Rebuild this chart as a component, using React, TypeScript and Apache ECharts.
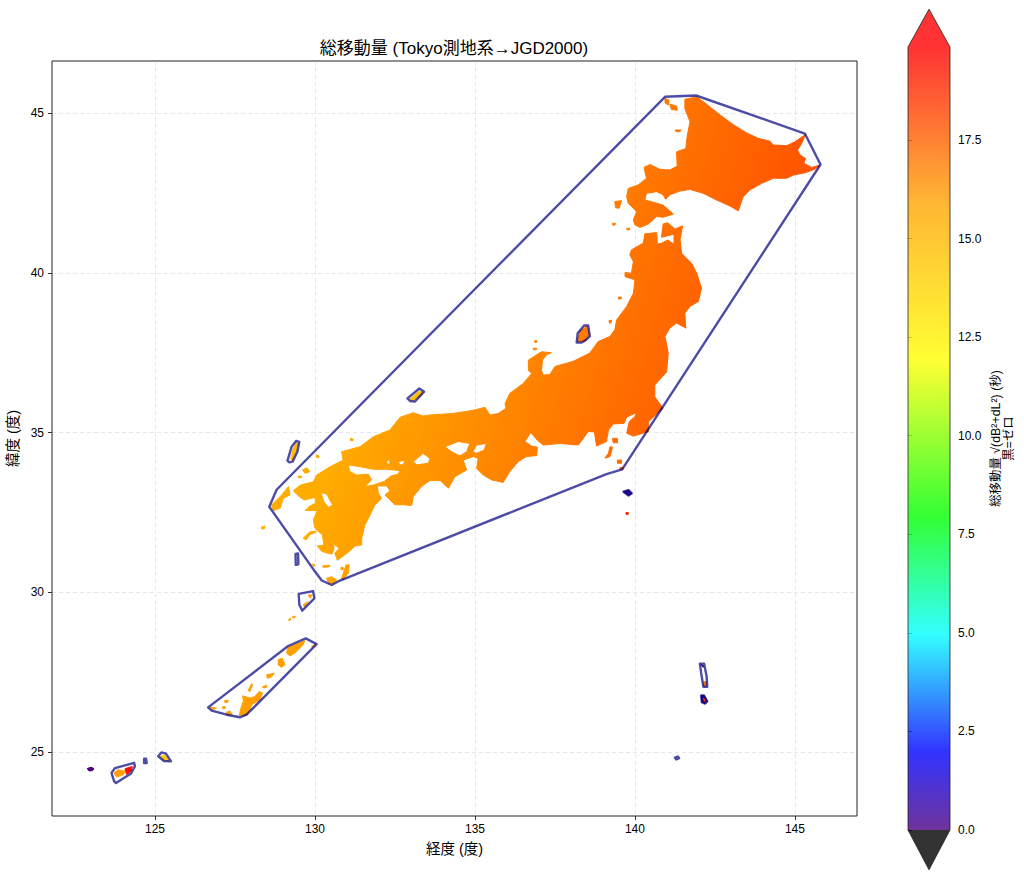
import React, { useEffect, useRef } from "react";
import * as echarts from "echarts";

type P = number[];

const chartTitle = "総移動量 (Tokyo測地系→JGD2000)";
const xName = "経度 (度)";
const yName = "緯度 (度)";
const barName = "総移動量 √(dB²+dL²) (秒)\n黒=ゼロ";
const lonTicks = [125, 130, 135, 140, 145];
const latTicks = [25, 30, 35, 40, 45];
const barTicks = [0, 2.5, 5, 7.5, 10, 12.5, 15, 17.5];
const barMax = 19.86;
const cmapStops = [0, 0.1, 0.25, 0.4, 0.6, 0.8, 1];
const cmapRgb = [[75, 0, 130], [0, 0, 255], [0, 255, 255], [0, 255, 0], [255, 255, 0], [255, 165, 0], [255, 0, 0]];

const hokkaido: P[] = [[141.56,45.43],[141.93,45.51],[142.24,45.28],[142.66,44.94],[143.07,44.64],[143.49,44.38],[143.85,44.21],[144.22,44.12],[144.32,44.0],[144.74,43.98],[145.0,44.1],[145.33,44.33],[145.21,44.05],[145.08,43.84],[145.16,43.69],[145.33,43.58],[145.28,43.43],[145.52,43.3],[145.78,43.37],[145.62,43.24],[145.31,43.13],[144.95,43.06],[144.74,42.96],[144.32,42.96],[143.96,42.8],[143.59,42.59],[143.38,42.38],[143.23,41.94],[142.97,42.09],[142.55,42.28],[142.13,42.49],[141.72,42.61],[141.41,42.56],[141.09,42.44],[140.96,42.3],[140.88,42.44],[140.68,42.54],[140.36,42.49],[140.31,42.28],[140.68,42.18],[140.88,42.12],[141.2,41.84],[140.88,41.74],[140.68,41.76],[140.42,41.53],[140.16,41.42],[140.0,41.5],[139.95,41.65],[140.05,41.92],[139.79,42.18],[139.74,42.38],[139.79,42.64],[140.1,42.75],[140.36,42.96],[140.28,43.3],[140.47,43.39],[140.78,43.24],[141.09,43.22],[141.32,43.34],[141.3,43.79],[141.59,43.89],[141.63,44.26],[141.72,44.73],[141.56,45.14]];

const mainland: P[] = [[140.31,41.22],[140.68,41.26],[140.7,40.9],[140.84,40.93],[141.02,41.03],[141.22,40.9],[141.22,41.21],[140.83,41.11],[140.88,41.53],[141.02,41.57],[141.25,41.37],[141.49,41.47],[141.41,41.03],[141.46,40.61],[141.77,40.3],[141.93,39.99],[142.08,39.52],[141.98,39.1],[141.72,38.95],[141.56,38.74],[141.59,38.27],[141.3,38.43],[141.09,38.27],[140.94,38.01],[141.04,37.49],[140.99,36.9],[140.62,36.49],[140.62,36.12],[140.88,35.76],[140.42,35.34],[140.42,35.03],[139.95,34.89],[139.74,34.98],[139.82,35.34],[140.0,35.5],[140.03,35.62],[139.74,35.48],[139.66,35.29],[139.32,35.27],[139.17,35.08],[139.11,34.72],[138.8,34.58],[138.73,35.03],[138.54,35.03],[138.23,34.61],[137.66,34.66],[137.13,34.61],[136.96,34.75],[136.74,35.0],[136.56,34.72],[136.77,34.58],[136.95,34.54],[136.93,34.28],[136.61,34.25],[136.35,34.09],[136.09,33.78],[135.88,33.44],[135.52,33.52],[135.26,33.67],[135.05,33.88],[135.1,34.19],[134.95,34.25],[134.63,34.14],[134.74,33.83],[134.37,33.62],[134.17,33.26],[133.91,33.5],[133.59,33.5],[133.33,33.31],[133.07,33.0],[133.02,32.72],[132.76,32.74],[132.5,32.74],[132.34,32.89],[132.19,33.05],[132.34,33.18],[132.24,33.33],[131.95,33.33],[131.98,33.1],[132.08,32.94],[131.87,32.73],[131.72,32.42],[131.56,32.11],[131.46,31.69],[131.46,31.48],[131.25,31.45],[131.07,31.28],[130.7,31.0],[130.62,31.22],[130.75,31.38],[130.59,31.51],[130.59,31.33],[130.52,31.19],[130.21,31.28],[130.07,31.45],[130.28,31.48],[130.23,31.8],[130.0,32.0],[129.95,32.27],[130.07,32.56],[129.69,32.56],[129.84,32.7],[130.02,32.79],[130.0,32.97],[129.66,32.89],[129.48,33.02],[129.32,33.18],[129.55,33.36],[129.95,33.46],[130.05,33.67],[130.47,33.93],[130.88,34.14],[130.83,34.4],[131.41,34.56],[131.82,34.87],[132.34,35.08],[132.66,35.48],[133.07,35.62],[133.38,35.52],[133.59,35.55],[134.32,35.6],[134.95,35.7],[135.31,35.79],[135.47,35.55],[135.73,35.6],[135.97,35.76],[135.94,35.91],[136.09,36.23],[136.51,36.54],[136.77,36.85],[136.67,36.95],[136.67,37.27],[137.08,37.53],[137.39,37.5],[137.24,37.44],[137.11,37.27],[137.08,36.95],[137.13,36.8],[137.34,36.82],[137.5,37.07],[138.07,37.23],[138.59,37.49],[138.85,37.85],[139.22,38.01],[139.37,38.22],[139.43,38.53],[139.74,38.95],[139.95,39.36],[140.0,39.78],[139.69,39.88],[139.69,40.01],[139.89,39.99],[139.95,40.35],[139.84,40.56],[139.89,40.72],[140.26,40.93]];

const suoIyoSea: P[] = [[131.04,33.99],[131.41,33.93],[131.82,33.85],[132.24,33.85],[132.66,33.81],[132.6,33.7],[132.39,33.65],[132.16,33.47],[131.82,33.36],[131.56,33.31],[131.77,33.52],[131.67,33.7],[131.3,33.67],[131.09,33.78]];
const hiuchiSea: P[] = [[133.07,34.09],[133.38,34.35],[133.59,34.19],[133.54,34.04],[133.18,33.99]];
const setoGapA: P[] = [[132.6,34.09],[132.81,34.14],[132.76,33.99],[132.66,33.99]];
const setoGapB: P[] = [[132.24,34.12],[132.34,34.14],[132.34,34.02],[132.26,34.02]];
const harimaSea: P[] = [[134.06,34.56],[134.48,34.72],[134.84,34.66],[134.74,34.4],[134.53,34.27],[134.27,34.4]];
const osakaBay: P[] = [[135.05,34.61],[135.36,34.66],[135.28,34.45],[135.05,34.35],[134.93,34.4]];
const ariakeSea: P[] = [[130.19,33.12],[130.36,33.08],[130.55,32.73],[130.42,32.66],[130.28,32.84]];

const gradientIslands: P[][] = [
  [[140.94,45.46],[141.07,45.4],[141.04,45.25],[140.94,45.32]],
  [[141.09,45.28],[141.3,45.22],[141.32,45.09],[141.14,45.11]],
  [[141.25,44.47],[141.44,44.47],[141.41,44.42],[141.28,44.42]],
  [[139.37,42.23],[139.58,42.26],[139.51,42.02],[139.39,42.04]],
  [[139.3,41.55],[139.39,41.55],[139.37,41.49],[139.3,41.5]],
  [[139.74,41.39],[139.84,41.39],[139.82,41.34],[139.75,41.35]],
  [[139.48,39.24],[139.58,39.24],[139.56,39.18],[139.49,39.18]],
  [[139.19,38.51],[139.27,38.51],[139.25,38.43],[139.2,38.43]],
  [[138.2,37.85],[138.28,38.17],[138.51,38.34],[138.57,38.06],[138.44,37.85]],
  [[136.82,37.64],[136.93,37.64],[136.91,37.59],[136.82,37.6]],
  [[136.87,37.88],[136.93,37.88],[136.93,37.82],[136.87,37.82]],
  [[139.3,34.82],[139.45,34.82],[139.45,34.68],[139.32,34.68]],
  [[139.22,34.56],[139.3,34.54],[139.22,34.25],[139.06,34.2],[139.17,34.35]],
  [[139.45,34.14],[139.58,34.14],[139.58,34.04],[139.45,34.04]],
  [[139.53,33.91],[139.63,33.91],[139.63,33.85],[139.53,33.85]],
  [[129.61,33.83],[129.74,33.9],[129.84,33.78],[129.69,33.72]],
  [[130.05,34.3],[130.13,34.27],[130.11,34.21],[130.05,34.22]],
  [[131.11,34.82],[131.2,34.79],[131.18,34.74],[131.11,34.75]],
  [[129.48,33.64],[129.58,33.64],[129.56,33.58],[129.48,33.59]],
  [[128.64,32.73],[128.96,33.05],[129.17,33.31],[129.22,33.05],[129.01,32.94],[128.91,32.63],[128.7,32.56]],
  [[129.63,31.69],[129.84,31.9],[130.05,31.9],[129.84,31.8],[129.72,31.64]],
  [[128.32,32.04],[128.43,32.08],[128.43,32.0],[128.34,31.98]],
  [[130.97,30.86],[131.07,30.86],[131.04,30.6],[130.88,30.39],[130.83,30.44]],
  [[130.36,30.44],[130.52,30.49],[130.68,30.39],[130.57,30.27],[130.42,30.29]],
  [[130.24,30.83],[130.47,30.85],[130.45,30.8],[130.26,30.78]],
  [[129.9,30.89],[130.0,30.86],[129.97,30.81]],
  [[130.81,30.78],[130.88,30.78],[130.88,30.71],[130.81,30.71]],
];

const valuedIslands: P[][] = [
  [[132.97,36.05],[133.23,36.28],[133.36,36.28],[133.33,36.17],[133.07,36.0]],
  [[129.24,34.16],[129.32,34.5],[129.43,34.68],[129.48,34.64],[129.37,34.3],[129.3,34.12]],
  [[129.79,29.92],[129.89,29.92],[129.86,29.81]],
  [[129.63,29.61],[129.79,29.71],[129.68,29.55]],
  [[129.18,29.16],[129.24,29.19],[129.24,29.14],[129.18,29.12]],
  [[129.3,29.24],[129.38,29.26],[129.38,29.21],[129.3,29.2]],
  [[129.11,28.1],[129.16,28.28],[129.68,28.49],[129.63,28.36],[129.37,28.1],[129.22,28.01]],
  [[129.89,28.3],[130.03,28.39],[129.94,28.28]],
  [[128.85,27.89],[128.98,27.94],[129.06,27.73],[128.95,27.65],[128.85,27.73]],
  [[128.49,27.42],[128.73,27.47],[128.64,27.35],[128.51,27.31]],
  [[128.36,27.05],[128.49,27.09],[128.47,27.01],[128.38,27.01]],
  [[127.91,26.93],[128.02,27.14],[128.05,27.11],[127.97,26.9]],
  [[128.26,26.9],[128.36,26.85],[128.28,26.64],[128.02,26.48],[127.97,26.33],[127.86,26.15],[127.63,26.15],[127.7,26.43],[127.76,26.59],[127.74,26.76],[127.97,26.69],[128.12,26.74]],
  [[127.22,26.24],[127.34,26.29],[127.41,26.17],[127.24,26.16]],
  [[127.18,26.62],[127.29,26.62],[127.27,26.55],[127.18,26.55]],
  [[127.11,26.42],[127.2,26.42],[127.19,26.36],[127.12,26.36]],
  [[126.72,26.41],[126.92,26.37],[126.8,26.33]],
  [[123.72,24.35],[123.85,24.45],[124.06,24.4],[124.01,24.29],[123.8,24.22]],
  [[124.06,24.48],[124.29,24.55],[124.25,24.4],[124.11,24.3]],
  [[125.17,24.87],[125.31,24.9],[125.43,24.74],[125.26,24.76]],
  [[122.88,24.48],[122.96,24.52],[123.04,24.52],[123.09,24.47],[123.04,24.42],[122.94,24.41]],
  [[139.64,33.15],[139.8,33.2],[139.9,33.1],[139.8,33.03]],
  [[139.72,32.5],[139.79,32.5],[139.79,32.44],[139.72,32.44]],
  [[142.06,27.76],[142.16,27.68],[142.12,27.66]],
  [[142.16,27.2],[142.23,27.2],[142.24,27.06],[142.15,27.06]],
  [[142.07,26.77],[142.16,26.77],[142.26,26.59],[142.19,26.52],[142.09,26.56]],
  [[142.14,26.68],[142.2,26.66],[142.18,26.58]],
];
const valuedIslandValues = [14.8, 15.0, 16.0, 16.0, 15.9, 15.9, 16.0, 16.0, 16.0, 16.0, 16.0, 16.0, 16.0, 16.0, 16.0, 16.0, 16.0, 16.0, 19.6, 14.2, 0.1, 0.1, 19.0, 0.3, 17.0, 0.2, 18.5];

const hulls: P[][] = [
  [[128.57,32.68],[128.8,33.21],[140.94,45.51],[141.91,45.55],[145.31,44.36],[145.8,43.39],[139.6,33.85],[139.11,33.7],[130.78,30.37],[130.52,30.23],[130.21,30.37],[130.0,30.65]],
  [[138.18,37.82],[138.21,38.11],[138.41,38.35],[138.54,38.35],[138.59,38.01],[138.44,37.88],[138.33,37.82]],
  [[132.89,36.07],[133.26,36.38],[133.41,36.28],[133.12,35.97],[132.97,35.99]],
  [[129.14,34.12],[129.27,34.56],[129.41,34.74],[129.51,34.71],[129.45,34.4],[129.3,34.09],[129.2,34.07]],
  [[129.39,31.2],[129.47,31.22],[129.48,30.88],[129.4,30.86]],
  [[129.49,29.95],[129.94,30.04],[129.98,29.81],[129.6,29.43],[129.51,29.61]],
  [[126.66,26.4],[129.16,28.32],[129.71,28.56],[130.05,28.38],[127.86,26.17],[127.65,26.09],[127.24,26.17],[126.77,26.3]],
  [[123.64,24.35],[123.75,24.5],[124.35,24.66],[124.37,24.55],[124.25,24.33],[123.78,24.03],[123.72,24.09]],
  [[125.1,24.87],[125.2,24.99],[125.34,24.95],[125.5,24.71],[125.28,24.72]],
  [[124.66,24.79],[124.72,24.79],[124.74,24.66],[124.66,24.66]],
  [[139.64,33.15],[139.8,33.2],[139.9,33.1],[139.8,33.03]],
  [[142.03,27.77],[142.16,27.77],[142.24,27.37],[142.26,27.04],[142.14,27.04],[142.07,27.47]],
  [[142.07,26.77],[142.16,26.77],[142.26,26.59],[142.19,26.52],[142.09,26.56]],
  [[141.25,24.83],[141.34,24.86],[141.38,24.81],[141.29,24.77]],
];

const landGroups: P[][][] = [
  [mainland, suoIyoSea, hiuchiSea, setoGapA, setoGapB, harimaSea, osakaBay, ariakeSea],
  [hokkaido],
  ...gradientIslands.map((r) => [r]),
];

const gradientFrom = { lon: 130, lat: 32.6, value: 15.6 };
const gradientTo = { lon: 140.55, lat: 29.26, value: 17.8 };

const FONT = '"Liberation Sans", "Noto Sans CJK JP", sans-serif';

function mixColor(v: number, alpha = 1): string {
  const t = Math.min(1, Math.max(0, v / barMax));
  let i = 0;
  while (i < cmapStops.length - 2 && t > cmapStops[i + 1]) i++;
  const f = (t - cmapStops[i]) / (cmapStops[i + 1] - cmapStops[i]);
  const c = cmapRgb[i].map((a, k) => Math.round(a + (cmapRgb[i + 1][k] - a) * f));
  return `rgba(${c[0]},${c[1]},${c[2]},${alpha})`;
}

function area(pts: number[][]): number {
  let s = 0;
  pts.forEach((p, i) => {
    const q = pts[(i + 1) % pts.length];
    s += p[0] * q[1] - q[0] * p[1];
  });
  return s;
}

function ringPath(pts: number[][], positive: boolean): string {
  const ordered = area(pts) > 0 === positive ? pts : [...pts].reverse();
  return "M" + ordered.map((p) => `${p[0].toFixed(2)} ${p[1].toFixed(2)}`).join("L") + "Z";
}

export default function App() {
  const ref = useRef<HTMLDivElement>(null);
  useEffect(() => {
    const chart = echarts.init(ref.current!, undefined, { renderer: "svg" });
    const landRender = (params: any, api: any) => {
      const group = landGroups[params.dataIndex];
      const d = group.map((ring, i) => ringPath(ring.map((p) => api.coord(p)), i === 0)).join("");
      const a = api.coord([gradientFrom.lon, gradientFrom.lat]);
      const b = api.coord([gradientTo.lon, gradientTo.lat]);
      const makeFill = () => new echarts.graphic.LinearGradient(a[0], a[1], b[0], b[1], [
        { offset: 0, color: mixColor(gradientFrom.value) },
        { offset: 1, color: mixColor(gradientTo.value) },
      ], true);
      return { type: "path", shape: { pathData: d }, style: { fill: makeFill(), stroke: makeFill(), lineWidth: 1, lineJoin: "round" } };
    };
    const islandRender = (params: any, api: any) => {
      const color = mixColor(valuedIslandValues[params.dataIndex]);
      return {
        type: "polygon",
        shape: { points: valuedIslands[params.dataIndex].map((p) => api.coord(p)) },
        style: { fill: color, stroke: color, lineWidth: 1, lineJoin: "round" },
      };
    };
    const hullRender = (params: any, api: any) => ({
      type: "polygon",
      shape: { points: hulls[params.dataIndex].map((p) => api.coord(p)) },
      style: { fill: "none", stroke: "rgba(0,0,128,0.7)", lineWidth: 2.4, lineJoin: "round" },
    });
    const barRender = (_: any, api: any) => {
      const lt = api.coord([0, barMax]);
      const rb = api.coord([1, 0]);
      const tip = api.coord([0.5, barMax + 0.96]);
      const low = api.coord([0.5, -1.01]);
      const x = lt[0], w = rb[0] - lt[0], y = lt[1], h = rb[1] - lt[1];
      return {
        type: "group",
        children: [
          {
            type: "rect",
            shape: { x, y, width: w, height: h },
            style: {
              fill: new echarts.graphic.LinearGradient(0, 1, 0, 0,
                cmapStops.map((o) => ({ offset: o, color: mixColor(o * barMax, 0.8) }))),
            },
          },
          { type: "polygon", shape: { points: [[x, y], [tip[0], tip[1]], [x + w, y]] }, style: { fill: "rgba(255,0,0,0.8)" } },
          { type: "polygon", shape: { points: [[x, y + h], [x + w, y + h], [low[0], low[1]]] }, style: { fill: "rgba(0,0,0,0.8)" } },
          {
            type: "polygon",
            shape: { points: [[x, y], [tip[0], tip[1]], [x + w, y], [x + w, y + h], [low[0], low[1]], [x, y + h]] },
            style: { fill: "none", stroke: "#222", lineWidth: 0.8 },
          },
        ],
      };
    };
    const axisText = { fontFamily: FONT, fontSize: 12, color: "#000" };
    chart.setOption({
      animation: false,
      backgroundColor: "#fff",
      title: {
        text: chartTitle,
        left: 454,
        top: 40,
        textAlign: "center",
        textVerticalAlign: "top",
        padding: 0,
        textStyle: { fontFamily: FONT, fontSize: 17, fontWeight: "normal", color: "#000" },
      },
      grid: [
        { left: 52, top: 61, width: 805, height: 755, show: true, borderColor: "#222", borderWidth: 1, backgroundColor: "#fff", outerBoundsMode: "none" },
        { left: 908, top: 47, width: 42, height: 783, outerBoundsMode: "none" },
      ],
      xAxis: [
        {
          gridIndex: 0, type: "value", min: 121.78, max: 146.94,
          name: xName, nameLocation: "center", nameGap: 26,
          nameTextStyle: { fontFamily: FONT, fontSize: 14.5, color: "#000" },
          axisLine: { show: false },
          axisTick: { show: true, length: 4, lineStyle: { color: "#000", width: 0.8 }, customValues: lonTicks },
          axisLabel: { ...axisText, margin: 7, customValues: lonTicks, formatter: (v: number) => String(v) },
          splitLine: { show: true, lineStyle: { color: "rgba(176,176,176,0.3)", type: [4, 3], width: 1 } },
        },
        { gridIndex: 1, type: "value", min: 0, max: 1, show: false },
      ],
      yAxis: [
        {
          gridIndex: 0, type: "value", min: 23, max: 46.63,
          name: yName, nameLocation: "center", nameGap: 30, nameRotate: 90,
          nameTextStyle: { fontFamily: FONT, fontSize: 14.5, color: "#000" },
          axisLine: { show: false },
          axisTick: { show: true, length: 4, lineStyle: { color: "#000", width: 0.8 }, customValues: latTicks },
          axisLabel: { ...axisText, margin: 8, customValues: latTicks, formatter: (v: number) => String(v) },
          splitLine: { show: true, lineStyle: { color: "rgba(176,176,176,0.3)", type: [4, 3], width: 1 } },
        },
        {
          gridIndex: 1, type: "value", min: 0, max: barMax, position: "right",
          name: barName, nameLocation: "center", nameGap: 39, nameRotate: 90,
          nameTextStyle: { fontFamily: FONT, fontSize: 12.4, color: "#000", lineHeight: 13 },
          axisLine: { show: false },
          axisTick: { show: true, length: 4, lineStyle: { color: "#000", width: 0.8 }, customValues: barTicks },
          axisLabel: { ...axisText, margin: 8, customValues: barTicks, formatter: (v: number) => v.toFixed(1) },
          splitLine: { show: false },
        },
      ],
      series: [
        { type: "custom", name: "land", xAxisIndex: 0, yAxisIndex: 0, silent: true, renderItem: landRender, data: landGroups.map((_, i) => [i]), z: 3 },
        { type: "custom", name: "islands", xAxisIndex: 0, yAxisIndex: 0, silent: true, renderItem: islandRender, data: valuedIslands.map((_, i) => [i]), z: 3 },
        { type: "custom", name: "hulls", xAxisIndex: 0, yAxisIndex: 0, silent: true, renderItem: hullRender, data: hulls.map((_, i) => [i]), z: 4 },
        { type: "custom", name: "colorbar", xAxisIndex: 1, yAxisIndex: 1, silent: true, clip: false, renderItem: barRender, data: [[0]], z: 3 },
      ],
    });
    return () => chart.dispose();
  }, []);
  return <div ref={ref} style={{ position: "fixed", left: 0, top: 0, width: 1024, height: 879 }} />;
}
